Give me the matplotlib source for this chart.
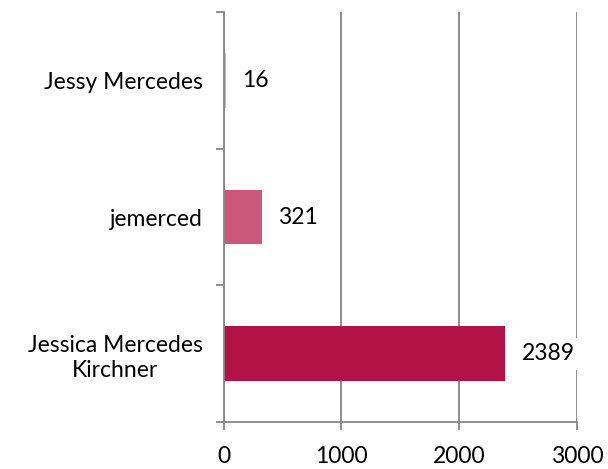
import numpy as np
import matplotlib.pyplot as plt

plt.rcParams['font.family'] = ['Lato', 'DejaVu Sans']

# data
names = ["Jessica Mercedes\nKirchner", "jemerced", "Jessy Mercedes"]
counts = [2389, 321, 16]
colors = ["#B31246", "#CA577C", "#E7A3B9"]
xticks = [0, 1000, 2000, 3000]

fig = plt.figure(figsize=(6.08, 4.69), dpi=100)
ax = fig.add_axes([0.368, 0.100, 0.581, 0.874])

y = np.arange(len(names))
ax.barh(y, counts, height=0.4, color=colors, zorder=2)

for yi, c in zip(y, counts):
    ax.annotate(str(c), (c, yi), xytext=(12, 0), textcoords="offset points",
                va="center", ha="left", fontsize=16.5,
                bbox=dict(boxstyle="square,pad=0.25", fc="white", ec="none"),
                zorder=3)

ax.set_xlim(0, 3000)
ax.set_ylim(-0.5, 2.5)
ax.set_xticks(xticks)
ax.set_xticklabels([str(t) for t in xticks], fontsize=16.5)
ax.set_yticks(y)
ax.set_yticklabels(names, fontsize=16.5, ha="right", multialignment="center",
                   linespacing=1.25)
ax.tick_params(axis="y", which="major", length=0, pad=15)
ax.set_yticks(np.arange(-0.5, len(names), 1), minor=True)
ax.tick_params(axis="y", which="minor", length=6, width=1.3, color="#868686")
ax.tick_params(axis="x", length=6, width=1.3, color="#868686", pad=11)

ax.grid(axis="x", color="#868686", linewidth=1.3, zorder=0)
for s in ["top", "right"]:
    ax.spines[s].set_visible(False)
for s in ["left", "bottom"]:
    ax.spines[s].set_color("#868686")
    ax.spines[s].set_linewidth(1.3)

plt.savefig("out.png", dpi=100)
plt.close()
